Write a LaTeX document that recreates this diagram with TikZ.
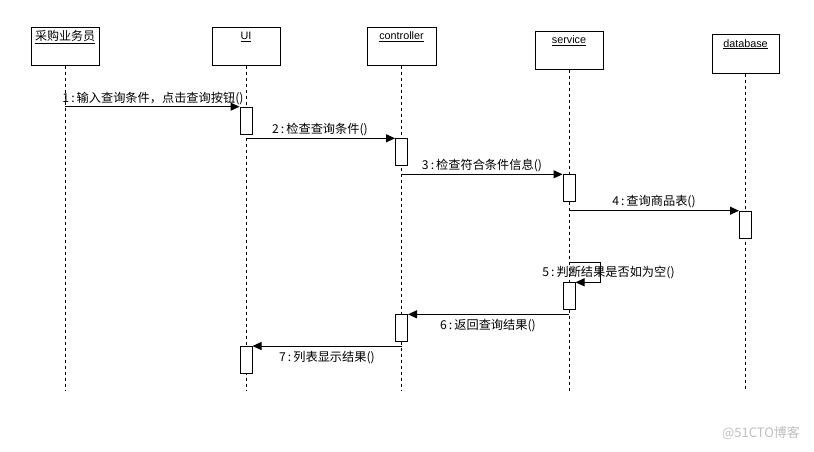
\documentclass[tikz,border=0pt]{standalone}
\usepackage{fontspec}
\setmainfont{Noto Sans CJK SC}
\newfontfamily\lat{Liberation Sans}
\usetikzlibrary{arrows.meta}
\begin{document}
\begin{tikzpicture}[x=1pt,y=-1pt,
  headbox/.style={draw,line width=1pt,minimum width=68pt,minimum height=38pt,inner sep=0pt},
  headtext/.style={font=\fontsize{10.8}{12}\lat,anchor=center,inner sep=0pt},
  headcjk/.style={font=\fontsize{12}{12}\selectfont,anchor=center,inner sep=0pt},
  lifeline/.style={line width=1pt,dash pattern=on 3pt off 3pt},
  actbox/.style={draw,fill=white,line width=1pt,minimum width=12pt,minimum height=27pt,inner sep=0pt,anchor=north},
  msg/.style={line width=1pt,-{Triangle[length=9pt,width=8pt]}},
  msglabel/.style={font=\fontsize{12.2}{13}\selectfont,inner sep=0pt,anchor=center}
]
\useasboundingbox[fill=white] (0,0) rectangle (814,451);
% heads
\node[headbox] (h1) at (65,46) {};
\node[headbox] (h2) at (246,46) {};
\node[headbox,minimum width=69pt] (h3) at (401.5,46) {};
\node[headbox] (h4) at (569,50) {};
\node[headbox,minimum width=67pt,minimum height=39pt] (h5) at (745.5,53.8) {};
\node[headcjk] (t1) at ([yshift=-10.5pt]h1.north) {\underline{采购业务员}};
\node[headtext] (t2) at ([yshift=-10.5pt]h2.north) {\underline{UI}};
\node[headtext] (t3) at ([yshift=-10.5pt]h3.north) {\underline{controller}};
\node[headtext] (t4) at ([yshift=-10.5pt]h4.north) {\underline{service}};
\node[headtext] (t5) at ([yshift=-10.5pt]h5.north) {\underline{database}};
% lifeline ends
\coordinate (e1) at (65,391);
\coordinate (e2) at (246,391);
\coordinate (e3) at (401.5,391);
\coordinate (e4) at (569,391);
\coordinate (e5) at (745.5,391);
\draw[lifeline] (h1.south) -- (e1);
\draw[lifeline] (h2.south) -- (e2);
\draw[lifeline] (h3.south) -- (e3);
\draw[lifeline] (h4.south) -- (e4);
\draw[lifeline] (h5.south) -- (e5);
% activations
\node[actbox] (a1) at (246,106.7) {};
\node[actbox] (a2) at (401.5,138.3) {};
\node[actbox] (a3) at (569,174.3) {};
\node[actbox] (a4) at (745.5,210.7) {};
\node[actbox] (a5) at (569,282.3) {};
\node[actbox] (a6) at (401.5,314.3) {};
\node[actbox] (a7) at (246,346) {};
% messages
\draw[msg] (h1.south |- a1.north west) -- (a1.north west);
\draw[msg] (h2.south |- a2.north west) -- (a2.north west);
\draw[msg] (h3.south |- a3.north west) -- (a3.north west);
\draw[msg] (h4.south |- a4.north west) -- (a4.north west);
\coordinate (s5) at (569,262.3);
\draw[msg] (s5) -- ++(31.7,0) -- ++(0,20) -- (a5.north east);
\draw[msg] (h4.south |- a6.north east) -- (a6.north east);
\draw[msg] (h3.south |- a7.north east) -- (a7.north east);
% labels
\node[msglabel] (l1) at (153,98.5) {1\,:\,输入查询条件，点击查询按钮()};
\node[msglabel] (l2) at (320,129.5) {2\,:\,检查查询条件()};
\node[msglabel] (l3) at (482,165.5) {3\,:\,检查符合条件信息()};
\node[msglabel] (l4) at (654,201.5) {4\,:\,查询商品表()};
\node[msglabel] (l5) at (608.5,273) {5\,:\,判断结果是否如为空()};
\node[msglabel] (l6) at (488,326) {6\,:\,返回查询结果()};
\node[msglabel] (l7) at (327,357.3) {7\,:\,列表显示结果()};
% watermark
\node[font=\fontsize{13}{14}\selectfont,text=black!25,inner sep=0pt] (wm) at (761,433) {@51CTO博客};
\end{tikzpicture}
\end{document}
